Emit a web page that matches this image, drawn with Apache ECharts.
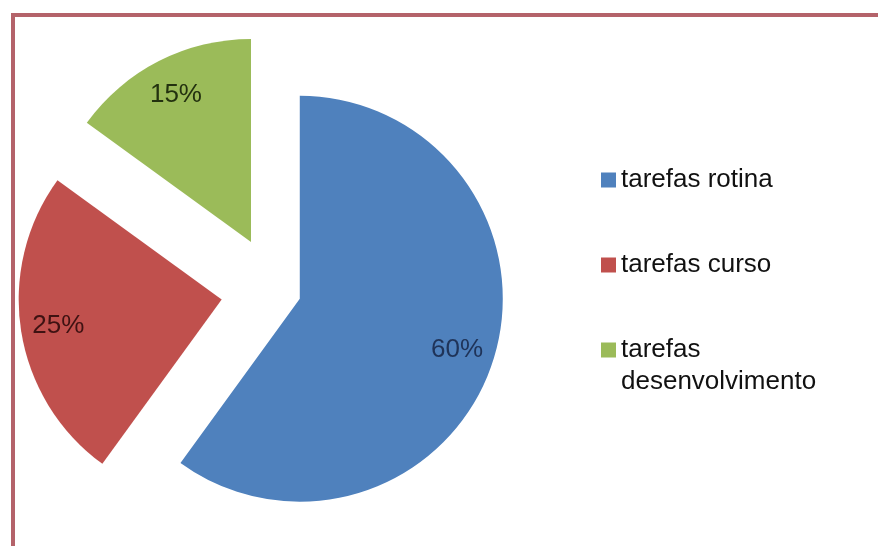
<!DOCTYPE html>
<html>
<head>
<meta charset="utf-8">
<script src="https://cdn.jsdelivr.net/npm/echarts@6/dist/echarts.min.js"></script>
<style>
  html, body { margin: 0; padding: 0; background: #fff; }
  #frame { position: absolute; left: 11px; top: 13px; width: 900px; height: 560px;
           border-top: 4px solid #b4636a; border-left: 4px solid #b4636a; }
  #chart { position: absolute; left: 0; top: 0; width: 878px; height: 546px; }
</style>
</head>
<body>
<div id="frame"></div>
<div id="chart"></div>
<script>
const categories = ['tarefas rotina', 'tarefas curso', 'tarefas desenvolvimento'];
const shares = [60, 25, 15];
const sliceColors = ['#4f81bd', '#c0504d', '#9bbb59'];
const labelColors = ['#1f3358', '#3e1212', '#23310f'];

const radius = 203;
const font = 'Liberation Sans';

// bisector of each slice, clockwise from 12 o'clock (radians)
const total = shares.reduce((a, b) => a + b, 0);
let acc = 0;
const midAngles = shares.map(v => {
  const m = (acc + v / 2) / total * 2 * Math.PI;
  acc += v;
  return m;
});

// one pie per explode distance, other slices kept as transparent placeholders
function pieLayer(visible, offset) {
  return {
    type: 'pie',
    center: [276, 291],
    radius: radius,
    startAngle: 90,
    selectedMode: 'multiple',
    selectedOffset: offset,
    avoidLabelOverlap: false,
    label: {
      position: 'inside',
      formatter: p => Math.round(p.percent) + '%',
      fontSize: 26,
      fontFamily: font
    },
    // push labels out to ~80% of the radius like excel does
    labelLayout: p => ({
      dx: 0.3 * radius * Math.sin(midAngles[p.dataIndex]),
      dy: -0.3 * radius * Math.cos(midAngles[p.dataIndex])
    }),
    labelLine: { show: false },
    emphasis: { disabled: true },
    data: categories.map((name, i) => {
      const on = visible.indexOf(i) >= 0;
      return {
        name: name,
        value: shares[i],
        selected: on,
        itemStyle: { color: on ? sliceColors[i] : 'rgba(0,0,0,0)' },
        label: { show: on, color: labelColors[i] }
      };
    })
  };
}

const legendText = { fontSize: 26, lineHeight: 32, color: '#111', fontFamily: font };

const chart = echarts.init(document.getElementById('chart'));
chart.setOption({
  animation: false,
  legend: [
    {
      orient: 'vertical',
      left: 601,
      top: 164,
      padding: 0,
      itemGap: 53,
      itemWidth: 15,
      itemHeight: 15,
      icon: 'rect',
      selectedMode: false,
      textStyle: legendText,
      data: [0, 1].map(i => ({ name: categories[i], itemStyle: { color: sliceColors[i] } }))
    },
    {
      orient: 'vertical',
      left: 601,
      top: 302,
      padding: 0,
      itemWidth: 15,
      itemHeight: 15,
      icon: 'rect',
      selectedMode: false,
      // blank first line keeps the square level with "tarefas"
      formatter: name => '\n' + name.replace(' ', '\n'),
      textStyle: legendText,
      data: [{ name: categories[2], itemStyle: { color: sliceColors[2] } }]
    }
  ],
  series: [
    pieLayer([0], 25),
    pieLayer([1, 2], 55)
  ]
});
</script>
</body>
</html>
